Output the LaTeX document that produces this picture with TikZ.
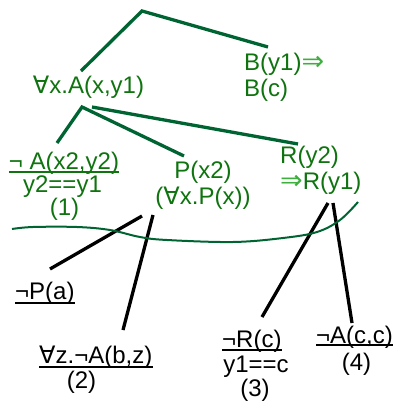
\documentclass[tikz,border=0pt]{standalone}
\usepackage{fontspec}
\setmainfont{Liberation Sans}
\newfontfamily\symf{DejaVu Sans}
\definecolor{tg}{RGB}{15,115,15}
\definecolor{lg}{RGB}{0,100,50}
\definecolor{ag}{RGB}{60,175,60}
\newcommand{\fa}{{\symf ∀}}
\newcommand{\imp}{{\color{ag}\fontsize{27}{27}\selectfont\symf ⇒}}
\begin{document}
\begin{tikzpicture}[x=1pt,y=-1pt,
  txt/.style={font=\fontsize{24}{24}\selectfont, inner sep=0pt, anchor=base},
  gtxt/.style={txt,text=tg},
  btxt/.style={txt,text=black},
  gline/.style={draw=lg,line width=3.3pt},
  bline/.style={draw=black,line width=3.3pt},
  guline/.style={draw=tg,line width=1.3pt},
  buline/.style={draw=black,line width=1.3pt},
  curve/.style={draw=lg,line width=2pt}]
\useasboundingbox (0,0) rectangle (396,406);
% green nodes
\node[gtxt] (fa) at (88.5,94) {\fa x.A(x,y1)};
\node[gtxt,anchor=base west] (b1) at (244,71) {B(y1)\imp};
\node[gtxt,anchor=base west] (b2) at (244,97) {B(c)};
\node[gtxt] (a1) at (64,169) {¬ A(x2,y2)};
\node[gtxt] (a2) at (62.5,192) {y2==y1};
\node[gtxt] (a3) at (64.5,215) {(1)};
\node[gtxt] (p1) at (203,178) {P(x2)};
\node[gtxt] (p2) at (203,204) {(\fa x.P(x))};
\node[gtxt,anchor=base west] (r1) at (280,164) {R(y2)};
\node[gtxt,anchor=base west] (r2) at (280,189.5) {\imp R(y1)};
% black nodes
\node[btxt,anchor=base west] (np) at (15,299) {¬P(a)};
\node[btxt,anchor=base west] (fz) at (39,363) {\fa z.¬A(b,z)};
\node[btxt] (n2) at (81.5,388) {(2)};
\node[btxt,anchor=base west] (nr) at (222,347) {¬R(c)};
\node[btxt] (yc) at (256,372) {y1==c};
\node[btxt] (n3) at (255,396) {(3)};
\node[btxt,anchor=base west] (na) at (316,343) {¬A(c,c)};
\node[btxt] (n4) at (356.5,370) {(4)};
% underlines
\draw[guline] ([yshift=-3pt]a1.base west) -- ([yshift=-3pt]a1.base east);
\draw[buline] ([yshift=-4pt]np.base west) -- ([yshift=-4pt]np.base east);
\draw[buline] ([yshift=-4pt]fz.base west) -- ([yshift=-4pt]fz.base east);
\draw[buline] ([yshift=-3pt]nr.base west) -- ([yshift=-3pt]nr.base east);
\draw[buline] ([yshift=-2pt]na.base west) -- ([yshift=-2pt]na.base east);
% connector end points
\coordinate (top) at (142,11);
\coordinate (faT) at (81,71);
\coordinate (bT) at (268,47);
\coordinate (faB) at (82,107);
\coordinate (faB2) at (92,107);
\coordinate (a1T) at (57,143);
\coordinate (p1T) at (184,156);
\coordinate (r1T) at (298,144);
\coordinate (p2Ba) at (142,216);
\coordinate (p2Bb) at (153,215);
\coordinate (npT) at (50,269);
\coordinate (fzT) at (123,330);
\coordinate (r2Ba) at (328,203);
\coordinate (r2Bb) at (333,203);
\coordinate (nrT) at (262,317);
\coordinate (naT) at (352,323);
% green connectors
\draw[gline] (faT) -- (top) -- (bT);
\draw[gline] (a1T) -- (faB) -- (p1T);
\draw[gline] (faB2) -- (r1T);
% black connectors
\draw[bline] (p2Ba) -- (npT);
\draw[bline] (p2Bb) -- (fzT);
\draw[bline] (r2Ba) -- (nrT);
\draw[bline] (r2Bb) -- (naT);
% cut curve
\draw[curve] plot[smooth,tension=0.6] coordinates {(12,229) (33,227) (77,227) (110,230) (140,237) (167,240) (233,242) (283,238) (317,232) (340,220) (358,202)};
\end{tikzpicture}
\end{document}
